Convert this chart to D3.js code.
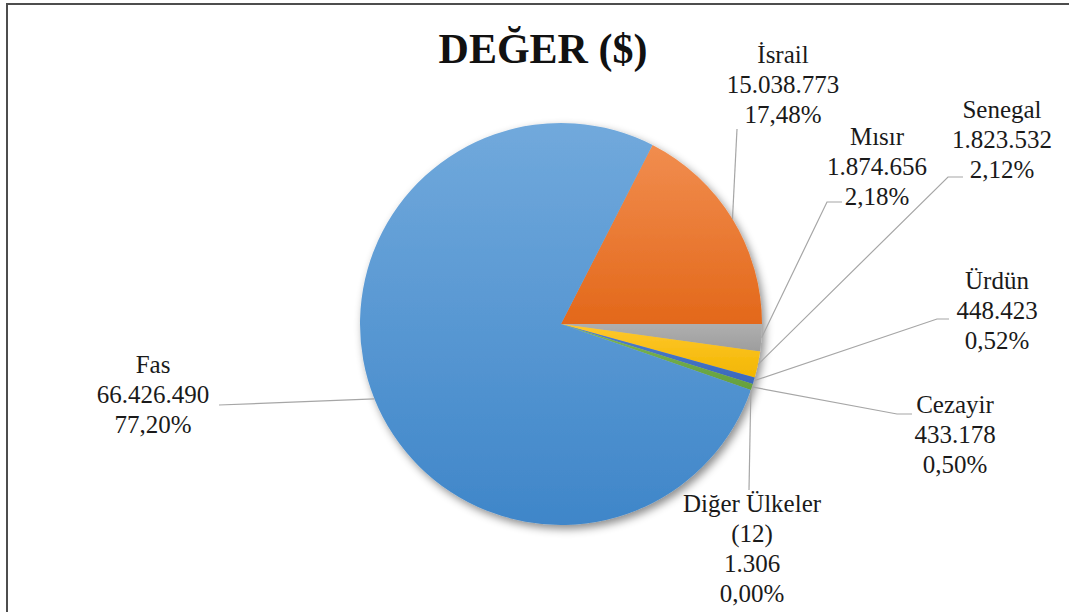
<!DOCTYPE html>
<html>
<head>
<meta charset="utf-8">
<script src="https://cdn.jsdelivr.net/npm/d3@7"></script>
<style>
    body { margin: 0; background: #fff; }
    #chart { width: 1069px; height: 612px; }
    .leader { fill: none; stroke: #a6a6a6; stroke-width: 1.2; }
</style>
</head>
<body>
<div id="chart"></div>
<script>
// Data
const countries = ['İsrail', 'Mısır', 'Senegal', 'Ürdün', 'Cezayir', 'Diğer Ülkeler (12)', 'Fas'];
const values = [15038773, 1874656, 1823532, 448423, 433178, 1306, 66426490];
const title = 'DEĞER ($)';

// slice fills, top -> bottom gradient
const colorsTop = ['#f18d4f', '#afafaf', '#ffc82e', '#507ecc', '#7bb754', '#2d6ba1', '#71a9dc'];
const colorsBottom = ['#e3681a', '#9d9d9d', '#f2b600', '#3a68bc', '#65a03d', '#205486', '#3f86c9'];

// label placement: text centre, first baseline, leader line points
const labelPos = [
    {'x': 783, 'y': 63, 'line': [[737, 129]]},
    {'x': 877, 'y': 145, 'line': [[827, 202], [842, 202]]},
    {'x': 1002, 'y': 118, 'line': [[948, 177], [963, 177]]},
    {'x': 997, 'y': 289, 'line': [[937, 319], [949, 319]]},
    {'x': 955, 'y': 413, 'line': [[897, 414], [912, 414]]},
    {'x': 752, 'y': 512, 'line': [[749, 490]]},
    {'x': 153, 'y': 373, 'line': [[219, 405]]}
];

const cfg = {
    'width': 1069,
    'height': 612,
    'cx': 561,
    'cy': 324,
    'r': 201,
    'font': '"Liberation Serif", "DejaVu Serif", serif',
    'fontsize': 25,
    'lineheight': 30
};

const locale = d3.formatLocale({'decimal': ',', 'thousands': '.', 'grouping': [3], 'currency': ['', '$']});
const fmtValue = locale.format(',d');
const fmtPct = locale.format('.2%');

const total = d3.sum(values);
const data = countries.map(function(c, i){
    return {'name': c, 'value': values[i], 'i': i};
});

// first slice ends at 3 o'clock
const start = Math.PI / 2 - 2 * Math.PI * values[0] / total;

const pie = d3.pie()
    .sort(null)
    .value(function(d){ return d.value; })
    .startAngle(start)
    .endAngle(start + 2 * Math.PI);

const arc = d3.arc().innerRadius(0).outerRadius(cfg.r);

const svg = d3.select('#chart').append('svg')
    .attr('width', cfg.width)
    .attr('height', cfg.height);

const defs = svg.append('defs');

const shadow = defs.append('filter')
    .attr('id', 'shadow')
    .attr('x', '-10%').attr('y', '-10%')
    .attr('width', '130%').attr('height', '130%');
shadow.append('feDropShadow')
    .attr('dx', 3).attr('dy', 4)
    .attr('stdDeviation', 4)
    .attr('flood-color', '#000')
    .attr('flood-opacity', 0.45);

data.forEach(function(d, i){
    const g = defs.append('linearGradient')
        .attr('id', 'grad' + i)
        .attr('x1', 0).attr('y1', 0)
        .attr('x2', 0).attr('y2', 1);
    g.append('stop').attr('offset', '0%').attr('stop-color', colorsTop[i]);
    g.append('stop').attr('offset', '100%').attr('stop-color', colorsBottom[i]);
});

// frame (right and bottom edges run off the picture)
svg.append('rect')
    .attr('x', 7).attr('y', 4)
    .attr('width', 1200).attr('height', 1000)
    .attr('fill', 'none')
    .attr('stroke', '#4d4d4d')
    .attr('stroke-width', 2);

// TITLE
svg.append('text')
    .attr('x', 543)
    .attr('y', 63)
    .attr('text-anchor', 'middle')
    .attr('font-family', cfg.font)
    .attr('font-weight', 'bold')
    .attr('font-size', 42)
    .attr('fill', '#111')
    .text(title);

// PIE
const arcs = pie(data);

const pieg = svg.append('g')
    .attr('transform', 'translate(' + cfg.cx + ',' + cfg.cy + ')')
    .attr('filter', 'url(#shadow)');

pieg.selectAll('path')
    .data(arcs).enter()
    .append('path')
    .attr('d', arc)
    .attr('fill', function(d){ return 'url(#grad' + d.data.i + ')'; });

// LEADER LINES
const line = d3.line();
svg.selectAll('.leader')
    .data(arcs).enter()
    .append('path')
    .attr('class', 'leader')
    .attr('d', function(d){
        const a = (d.startAngle + d.endAngle) / 2;
        const p0 = [cfg.cx + cfg.r * Math.sin(a), cfg.cy - cfg.r * Math.cos(a)];
        return line([p0].concat(labelPos[d.data.i].line));
    });

// LABELS
const labels = svg.selectAll('.data-label')
    .data(arcs).enter()
    .append('text')
    .attr('class', 'data-label')
    .attr('text-anchor', 'middle')
    .attr('font-family', cfg.font)
    .attr('font-size', cfg.fontsize)
    .attr('fill', '#1a1a1a');

labels.each(function(d){
    const pos = labelPos[d.data.i];
    let rows = d.data.name === 'Diğer Ülkeler (12)' ? ['Diğer Ülkeler', '(12)'] : [d.data.name];
    rows = rows.concat([fmtValue(d.data.value), fmtPct(d.data.value / total)]);
    d3.select(this).selectAll('tspan')
        .data(rows).enter()
        .append('tspan')
        .attr('x', pos.x)
        .attr('y', function(r, k){ return pos.y + k * cfg.lineheight; })
        .text(function(r){ return r; });
});
</script>
</body>
</html>
